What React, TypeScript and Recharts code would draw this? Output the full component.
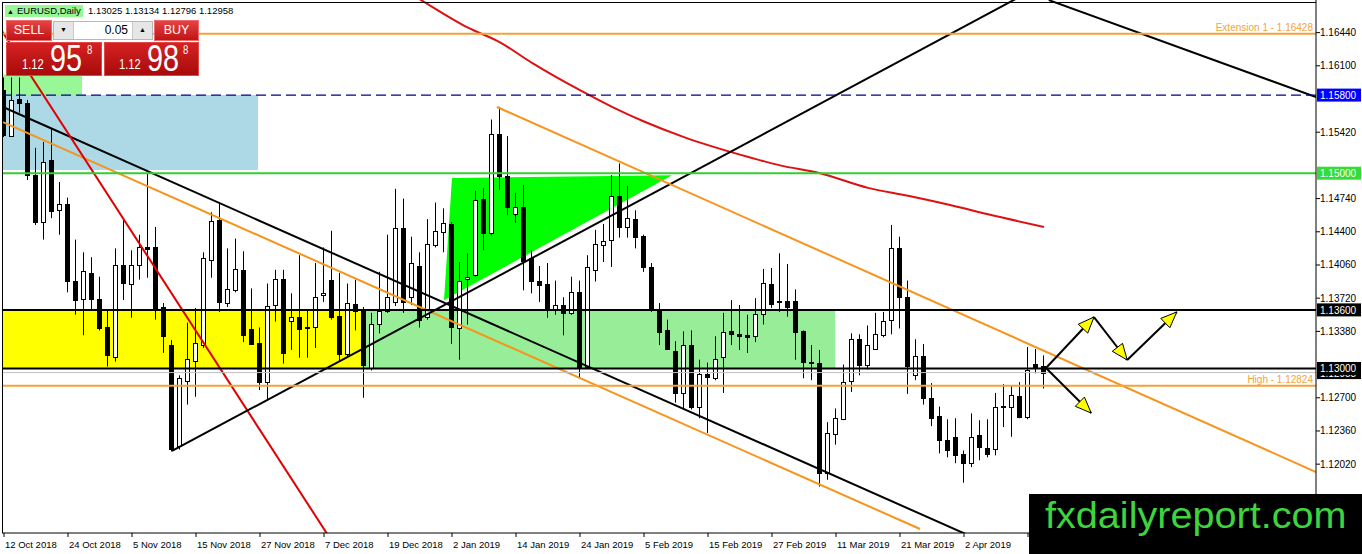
import React from 'react';
import { ComposedChart, Bar, Line, Area, XAxis, YAxis, ReferenceLine, ReferenceArea } from 'recharts';

const FONT = '"Liberation Sans", Arial, sans-serif';

// EURUSD daily bars, index 0 = 12 Oct 2018
const opens = [
  1.1585, 1.1538, 1.1576, 1.1572, 1.1498, 1.1450, 1.1514, 1.1462, 1.1468, 1.1390,
  1.1371, 1.1398, 1.1371, 1.1342, 1.1312, 1.1406, 1.1387, 1.1406, 1.1424, 1.1424,
  1.1363, 1.1324, 1.1220, 1.1287, 1.1308, 1.1324, 1.1411, 1.1452, 1.1367, 1.1381,
  1.1401, 1.1340, 1.1326, 1.1286, 1.1365, 1.1392, 1.1349, 1.1353, 1.1342, 1.1342,
  1.1375, 1.1391, 1.1354, 1.1315, 1.1366, 1.1359, 1.1301, 1.1346, 1.1359, 1.1368,
  1.1444, 1.1373, 1.1405, 1.1352, 1.1427, 1.1440, 1.1448, 1.1342, 1.1392, 1.1396,
  1.1474, 1.1439, 1.1540, 1.1497, 1.1458, 1.1465, 1.1413, 1.1390, 1.1387, 1.1361,
  1.1365, 1.1357, 1.1378, 1.1302, 1.1400, 1.1427, 1.1432, 1.1477, 1.1445, 1.1453,
  1.1436, 1.1404, 1.1360, 1.1339, 1.1318, 1.1275, 1.1324, 1.1260, 1.1294, 1.1291,
  1.1311, 1.1338, 1.1335, 1.1334, 1.1333, 1.1356, 1.1387, 1.1369, 1.1369, 1.1369,
  1.1338, 1.1307, 1.1306, 1.1193, 1.1233, 1.1248, 1.1287, 1.1330, 1.1304, 1.1320,
  1.1335, 1.1349, 1.1423, 1.1373, 1.1294, 1.1313, 1.1270, 1.1251, 1.1227, 1.1230,
  1.1212, 1.1203, 1.1232, 1.1219, 1.1218, 1.1262, 1.1261, 1.1272, 1.1250, 1.1305,
  1.13025,
];
const highs = [
  1.1598, 1.1598, 1.1598, 1.1575, 1.1526, 1.1532, 1.1546, 1.1491, 1.1475, 1.1432,
  1.1419, 1.1414, 1.1394, 1.1360, 1.1423, 1.1454, 1.1421, 1.1437, 1.1500, 1.1445,
  1.1367, 1.1329, 1.1293, 1.1347, 1.1362, 1.1419, 1.1460, 1.1470, 1.1423, 1.1433,
  1.1420, 1.1382, 1.1342, 1.1387, 1.1401, 1.1401, 1.1377, 1.1416, 1.1360, 1.1408,
  1.1424, 1.1441, 1.1398, 1.1387, 1.1391, 1.1363, 1.1357, 1.1399, 1.1437, 1.1484,
  1.1474, 1.1435, 1.1419, 1.1453, 1.1470, 1.1464, 1.1450, 1.1409, 1.1418, 1.1482,
  1.1485, 1.1555, 1.1568, 1.1538, 1.1480, 1.1488, 1.1421, 1.1405, 1.1408, 1.1390,
  1.1373, 1.1394, 1.1390, 1.1416, 1.1442, 1.1448, 1.1498, 1.1510, 1.1487, 1.1462,
  1.1437, 1.1408, 1.1367, 1.1350, 1.1328, 1.1338, 1.1339, 1.1309, 1.1306, 1.1333,
  1.1357, 1.1370, 1.1365, 1.1355, 1.1372, 1.1402, 1.1403, 1.1418, 1.1407, 1.1381,
  1.1339, 1.1324, 1.1319, 1.1245, 1.1259, 1.1304, 1.1336, 1.1335, 1.1344, 1.1357,
  1.1358, 1.1447, 1.1435, 1.1390, 1.1330, 1.1325, 1.1285, 1.1261, 1.1248, 1.1249,
  1.1216, 1.1254, 1.1247, 1.1248, 1.1275, 1.1284, 1.1282, 1.1286, 1.1322, 1.1320,
  1.13134,
];
const lows = [
  1.1537, 1.1537, 1.1562, 1.1493, 1.1447, 1.1432, 1.1454, 1.1437, 1.1378, 1.1355,
  1.1334, 1.1360, 1.1339, 1.1302, 1.1307, 1.1370, 1.1352, 1.1391, 1.1393, 1.1350,
  1.1316, 1.1215, 1.1217, 1.1263, 1.1271, 1.1321, 1.1393, 1.1358, 1.1363, 1.1378,
  1.1327, 1.1324, 1.1278, 1.1268, 1.1348, 1.1305, 1.1319, 1.1311, 1.1311, 1.1321,
  1.1368, 1.1350, 1.1307, 1.1312, 1.1339, 1.1270, 1.1298, 1.1336, 1.1357, 1.1364,
  1.1357, 1.1365, 1.1342, 1.1350, 1.1424, 1.1419, 1.1325, 1.1309, 1.1345, 1.1394,
  1.1421, 1.1436, 1.1483, 1.1457, 1.1449, 1.1380, 1.1377, 1.1368, 1.1352, 1.1355,
  1.1334, 1.1355, 1.1290, 1.1300, 1.1389, 1.1409, 1.1404, 1.1434, 1.1434, 1.1423,
  1.1399, 1.1358, 1.1324, 1.1319, 1.1265, 1.1258, 1.1258, 1.1249, 1.1234, 1.1288,
  1.1275, 1.1324, 1.1319, 1.1316, 1.1327, 1.1345, 1.1362, 1.1358, 1.1353, 1.1309,
  1.1290, 1.1288, 1.1179, 1.1186, 1.1222, 1.1247, 1.1276, 1.1293, 1.1299, 1.1319,
  1.1332, 1.1335, 1.1341, 1.1274, 1.1288, 1.1263, 1.1241, 1.1213, 1.1209, 1.1203,
  1.1183, 1.1199, 1.1206, 1.1209, 1.1211, 1.1240, 1.1230, 1.1249, 1.1248, 1.1295,
  1.12796,
];
const closes = [
  1.1539, 1.1575, 1.1572, 1.1498, 1.1450, 1.1511, 1.1462, 1.1468, 1.1389, 1.1371,
  1.1400, 1.1371, 1.1341, 1.1313, 1.1406, 1.1388, 1.1406, 1.1424, 1.1422, 1.1361,
  1.1333, 1.1217, 1.1290, 1.1310, 1.1326, 1.1413, 1.1451, 1.1368, 1.1381, 1.1402,
  1.1334, 1.1325, 1.1286, 1.1364, 1.1392, 1.1316, 1.1353, 1.1341, 1.1341, 1.1373,
  1.1377, 1.1353, 1.1315, 1.1367, 1.1359, 1.1304, 1.1346, 1.1359, 1.1373, 1.1444,
  1.1368, 1.1408, 1.1350, 1.1427, 1.1441, 1.1449, 1.1342, 1.1390, 1.1394, 1.1473,
  1.1439, 1.1540, 1.1497, 1.1465, 1.1465, 1.1410, 1.1389, 1.1386, 1.1361, 1.1365,
  1.1357, 1.1378, 1.1301, 1.1404, 1.1427, 1.1431, 1.1477, 1.1445, 1.1454, 1.1435,
  1.1404, 1.1360, 1.1337, 1.1320, 1.1275, 1.1324, 1.1260, 1.1294, 1.1291, 1.1310,
  1.1337, 1.1335, 1.1333, 1.1332, 1.1356, 1.1388, 1.1367, 1.1368, 1.1363, 1.1337,
  1.1306, 1.1306, 1.1193, 1.1234, 1.1249, 1.1286, 1.1330, 1.1303, 1.1324, 1.1335,
  1.1349, 1.1423, 1.1373, 1.1302, 1.1313, 1.1270, 1.1250, 1.1226, 1.1217, 1.1212,
  1.1203, 1.1230, 1.1220, 1.1213, 1.1261, 1.1261, 1.1273, 1.1250, 1.1298, 1.1301,
  1.12958,
];

const dateTicks = [0, 8, 16, 24, 32, 40, 48, 56, 64, 72, 80, 88, 96, 104, 112, 120, 128];
const dateLabels = [
  '12 Oct 2018', '24 Oct 2018', '5 Nov 2018', '15 Nov 2018', '27 Nov 2018', '7 Dec 2018',
  '19 Dec 2018', '2 Jan 2019', '14 Jan 2019', '24 Jan 2019', '5 Feb 2019', '15 Feb 2019',
  '27 Feb 2019', '11 Mar 2019', '21 Mar 2019', '2 Apr 2019', '12 Apr 2019',
];
const priceTicks = [1.1644, 1.161, 1.1542, 1.1474, 1.144, 1.1406, 1.1372, 1.1338, 1.127, 1.1236, 1.1202];

// red moving average
const maIdx = [50, 52, 58, 62, 66, 72, 76, 80, 85, 92, 97, 102, 108, 113, 118, 123, 130];
const maVal = [1.1688, 1.1678, 1.1649, 1.1634, 1.1613, 1.1585, 1.1568, 1.1553, 1.1537, 1.1519, 1.1508, 1.15, 1.1485, 1.1477, 1.1468, 1.1458, 1.1445];

// trend lines as [bar index, price]
const blackFalling = [[-0.125, 1.15678], [120.75, 1.11285]];
const orangeFalling = [[-0.125, 1.15524], [114.5, 1.11356]];
const redSteep = [[-0.5, 1.16487], [40.4, 1.11305]];
const blackRising = [[21, 1.12155], [130, 1.1694]];
const blackTopRight = [[130.6, 1.16773], [164, 1.1578]];
const orangeUpper = [[61.625, 1.15678], [164, 1.1194]];

// green triangle: [index, lower, upper]
const triangle = [[55, 1.137, 1.137], [56, 1.13745, 1.1495], [83.5, 1.1498, 1.1498]];

// zones: [x1, x2, lowPrice, highPrice]
const zoneTopGreen = [-0.25, 9.75, 1.158, 1.1601];
const zoneBlue = [-0.25, 31.75, 1.15033, 1.158];
const zoneYellow = [-0.25, 44.75, 1.13, 1.136];
const zoneLightGreen = [44.75, 103.9, 1.13, 1.136];

// projected path arrows
const arrowPath = [[130.25, 1.13005], [136.25, 1.13527], [140.4, 1.13087], [146.6, 1.13579]];
const arrowDown = [[130.25, 1.13005], [135.9, 1.12544]];

const candles = opens.map((o, i) => ({
  i,
  o,
  h: highs[i],
  l: lows[i],
  c: closes[i],
  range: [lows[i], highs[i]],
}));
const toPts = (arr: number[][]) => arr.map(([i, p]) => ({ i, p }));
const maData = maIdx.map((i, k) => ({ i, p: maVal[k] }));
const triData = triangle.map(([i, lo, hi]) => ({ i, r: [lo, hi] }));

const Candle = (props: any) => {
  const { x, y, width, height, payload } = props;
  if (!payload || x == null) return null;
  const { o, h, l, c } = payload;
  const top = Math.min(y, y + height);
  const span = Math.abs(height);
  const toY = (v: number) => (h === l ? top : top + ((h - v) / (h - l)) * span);
  const cx = Math.floor(x + width / 2) + 0.5;
  const yo = toY(o);
  const yc = toY(c);
  const bodyTop = Math.round(Math.min(yo, yc)) + 0.5;
  const bodyH = Math.max(1, Math.round(Math.abs(yo - yc)));
  const bull = c > o;
  return (
    <g>
      <line x1={cx} x2={cx} y1={top} y2={top + span} stroke="#000" strokeWidth={1} />
      <rect x={cx - 2} y={bodyTop} width={4} height={bodyH} fill={bull ? '#fff' : '#000'} stroke="#000" strokeWidth={1} />
    </g>
  );
};

const DateTick = (props: any) => {
  const { x, y, payload } = props;
  const k = dateTicks.indexOf(payload.value);
  return (
    <text x={x + 1} y={y + 9} fontSize={9.5} fontFamily={FONT} fill="#000">
      {dateLabels[k]}
    </text>
  );
};

const PriceTick = (props: any) => {
  const { x, y, payload } = props;
  return (
    <text x={x} y={y + 3.5} fontSize={10} fontFamily={FONT} fill="#000">
      {Number(payload.value).toFixed(5)}
    </text>
  );
};

const PriceBox = (props: any) => {
  const { viewBox, text, bg } = props;
  if (!viewBox) return null;
  const bx = viewBox.x + viewBox.width + 1;
  const y = viewBox.y;
  return (
    <g>
      <rect x={bx} y={y - 6.5} width={44} height={13} fill={bg} />
      <text x={bx + 3} y={y + 4} fontSize={10} fontFamily={FONT} fill="#fff">
        {text}
      </text>
    </g>
  );
};

const LineNote = (props: any) => {
  const { viewBox, text } = props;
  if (!viewBox) return null;
  return (
    <text x={viewBox.x + viewBox.width - 3} y={viewBox.y - 3} textAnchor="end" fontSize={10} fontFamily={FONT} fill="#F2A33A">
      {text}
    </text>
  );
};

const ArrowShape = (props: any) => {
  const { x1, y1, x2, y2 } = props;
  const dx = x2 - x1;
  const dy = y2 - y1;
  const len = Math.hypot(dx, dy) || 1;
  const ux = dx / len;
  const uy = dy / len;
  const bx = x2 - ux * 16;
  const by = y2 - uy * 16;
  const pts = `${x2},${y2} ${bx - uy * 6.5},${by + ux * 6.5} ${bx + uy * 6.5},${by - ux * 6.5}`;
  return (
    <g>
      <line x1={x1} y1={y1} x2={x2} y2={y2} stroke="#000" strokeWidth={2} />
      <polygon points={pts} fill="#FFFF00" stroke="#000" strokeWidth={1} />
    </g>
  );
};

const trendLine = (pts: number[][], color: string, key: string) => (
  <Line
    key={key}
    data={toPts(pts)}
    dataKey="p"
    type="linear"
    stroke={color}
    strokeWidth={2}
    dot={false}
    activeDot={false}
    isAnimationActive={false}
  />
);

const redBtn: React.CSSProperties = {
  position: 'absolute',
  background: 'linear-gradient(#e54343, #c01414)',
  border: '1px solid #ef6a6a',
  color: '#fff',
  fontFamily: FONT,
  fontSize: 12.5,
  textAlign: 'center',
  lineHeight: '19px',
  boxSizing: 'border-box',
};
const priceBox: React.CSSProperties = {
  position: 'absolute',
  top: 42,
  height: 34,
  background: 'linear-gradient(#d52222, #a90a0a)',
  border: '1px solid #e04848',
  boxSizing: 'border-box',
  color: '#fff',
  fontFamily: FONT,
};
const narrow = (left: number, top: number, size: number): React.CSSProperties => ({
  position: 'absolute',
  left,
  top,
  fontSize: size,
  lineHeight: 1.15,
  transform: 'scaleX(0.8)',
  transformOrigin: 'left',
  whiteSpace: 'nowrap',
});

export default function App() {
  return (
    <div style={{ position: 'relative', width: 1362, height: 554, background: '#fff', overflow: 'hidden' }}>
      <style>{'body{margin:0}'}</style>
      <ComposedChart width={1362} height={554} data={candles} margin={{ top: 0, right: 0, bottom: 0, left: 2 }}>
        <XAxis
          type="number"
          dataKey="i"
          domain={[-0.25, 164]}
          allowDataOverflow
          ticks={dateTicks}
          interval={0}
          tick={<DateTick />}
          tickSize={4}
          tickMargin={2}
          tickLine={{ stroke: '#000' }}
          axisLine={{ stroke: '#000' }}
          height={21}
        />
        <YAxis
          orientation="right"
          type="number"
          domain={[1.11315, 1.16774]}
          allowDataOverflow
          ticks={priceTicks}
          interval={0}
          tick={<PriceTick />}
          tickSize={4}
          tickMargin={0}
          tickLine={{ stroke: '#000' }}
          axisLine={{ stroke: '#000' }}
          width={46}
        />

        <ReferenceArea x1={zoneTopGreen[0]} x2={zoneTopGreen[1]} y1={zoneTopGreen[2]} y2={zoneTopGreen[3]} fill="#98F898" fillOpacity={1} stroke="none" />
        <ReferenceArea x1={zoneBlue[0]} x2={zoneBlue[1]} y1={zoneBlue[2]} y2={zoneBlue[3]} fill="#ADD8E6" fillOpacity={1} stroke="none" />
        <ReferenceArea x1={zoneYellow[0]} x2={zoneYellow[1]} y1={zoneYellow[2]} y2={zoneYellow[3]} fill="#FFFF00" fillOpacity={1} stroke="none" />
        <ReferenceArea x1={zoneLightGreen[0]} x2={zoneLightGreen[1]} y1={zoneLightGreen[2]} y2={zoneLightGreen[3]} fill="#98EE98" fillOpacity={1} stroke="none" />

        <Area data={triData} dataKey="r" type="linear" fill="#00FF00" fillOpacity={1} stroke="none" isAnimationActive={false} />

        <Bar dataKey="range" barSize={5} shape={<Candle />} isAnimationActive={false} />

        <Line data={maData} dataKey="p" type="monotone" stroke="#DD1111" strokeWidth={2} dot={false} activeDot={false} isAnimationActive={false} />
        {trendLine(blackFalling, '#000', 'bf')}
        {trendLine(orangeFalling, '#F7941D', 'of')}
        {trendLine(redSteep, '#E00000', 'rs')}
        {trendLine(blackRising, '#000', 'br')}
        {trendLine(blackTopRight, '#000', 'bt')}
        {trendLine(orangeUpper, '#F7941D', 'ou')}

        <ReferenceLine y={1.16428} stroke="#F2A33A" strokeWidth={2} label={<LineNote text="Extension 1 - 1.16428" />} />
        <ReferenceLine y={1.158} stroke="#00008B" strokeWidth={1.3} strokeDasharray="10 5" label={<PriceBox text="1.15800" bg="#0000FF" />} />
        <ReferenceLine y={1.15} stroke="#33CC33" strokeWidth={2} label={<PriceBox text="1.15000" bg="#33DD33" />} />
        <ReferenceLine y={1.136} stroke="#000" strokeWidth={2} label={<PriceBox text="1.13600" bg="#000" />} />
        <ReferenceLine y={1.12958} stroke="#C0C0C0" strokeWidth={1} label={<PriceBox text="1.12958" bg="#000" />} />
        <ReferenceLine y={1.13} stroke="#000" strokeWidth={2} label={<PriceBox text="1.13000" bg="#000" />} />
        <ReferenceLine y={1.12824} stroke="#F2A33A" strokeWidth={2} label={<LineNote text="High - 1.12824" />} />

        {arrowPath.slice(1).map((pt, k) => (
          <ReferenceLine
            key={`ap${k}`}
            segment={[
              { x: arrowPath[k][0], y: arrowPath[k][1] },
              { x: pt[0], y: pt[1] },
            ]}
            shape={ArrowShape}
          />
        ))}
        <ReferenceLine
          segment={[
            { x: arrowDown[0][0], y: arrowDown[0][1] },
            { x: arrowDown[1][0], y: arrowDown[1][1] },
          ]}
          shape={ArrowShape}
        />
      </ComposedChart>

      {/* chart frame */}
      <div style={{ position: 'absolute', left: 2, top: 2, width: 1314, height: 1, background: '#000' }} />
      <div style={{ position: 'absolute', left: 2, top: 2, width: 1, height: 531, background: '#000' }} />

      {/* header */}
      <div style={{ position: 'absolute', left: 5, top: 5, height: 12, padding: '0 2px 0 1px', background: '#98F898', fontFamily: FONT, fontSize: 9.5, lineHeight: '12px', whiteSpace: 'nowrap' }}>
        <span style={{ fontSize: 7, marginLeft: 1, marginRight: 3 }}>▲</span>EURUSD,Daily
      </div>
      <div style={{ position: 'absolute', left: 88, top: 5, fontFamily: FONT, fontSize: 9.5, lineHeight: '12px', whiteSpace: 'nowrap' }}>
        1.13025 1.13134 1.12796 1.12958
      </div>

      {/* one-click trading panel */}
      <div style={{ ...redBtn, left: 6, top: 20, width: 46, height: 21 }}>SELL</div>
      <div style={{ position: 'absolute', left: 53, top: 21, width: 100, height: 19, background: '#fff', border: '1px solid #b8b8b8', boxSizing: 'border-box' }}>
        <div style={{ position: 'absolute', left: 0, top: 0, width: 19, height: 17, background: '#e6e6e6', borderRight: '1px solid #c8c8c8', fontSize: 7, textAlign: 'center', lineHeight: '17px' }}>▼</div>
        <div style={{ position: 'absolute', right: 24, top: 0, fontFamily: FONT, fontSize: 12, lineHeight: '17px' }}>0.05</div>
        <div style={{ position: 'absolute', right: 0, top: 0, width: 19, height: 17, background: '#e6e6e6', borderLeft: '1px solid #c8c8c8', fontSize: 7, textAlign: 'center', lineHeight: '17px' }}>▲</div>
      </div>
      <div style={{ ...redBtn, left: 154, top: 20, width: 45, height: 21 }}>BUY</div>

      <div style={{ ...priceBox, left: 6, width: 96 }}>
        <span style={narrow(15, 13, 14)}>1.12</span>
        <span style={narrow(43, -5, 36)}>95</span>
        <span style={narrow(80, 1, 12)}>8</span>
      </div>
      <div style={{ ...priceBox, left: 104, width: 95 }}>
        <span style={narrow(14, 13, 14)}>1.12</span>
        <span style={narrow(42, -5, 36)}>98</span>
        <span style={narrow(78, 1, 12)}>8</span>
      </div>

      {/* watermark */}
      <div style={{ position: 'absolute', left: 1029, top: 494, width: 333, height: 60, background: '#000' }}>
        <span
          style={{
            position: 'absolute',
            left: 16,
            top: 4,
            fontFamily: FONT,
            fontSize: 36,
            lineHeight: '36px',
            color: '#3ED43E',
            whiteSpace: 'nowrap',
            transform: 'scaleX(1.1)',
            transformOrigin: 'left',
          }}
        >
          fxdailyreport.com
        </span>
      </div>
    </div>
  );
}
